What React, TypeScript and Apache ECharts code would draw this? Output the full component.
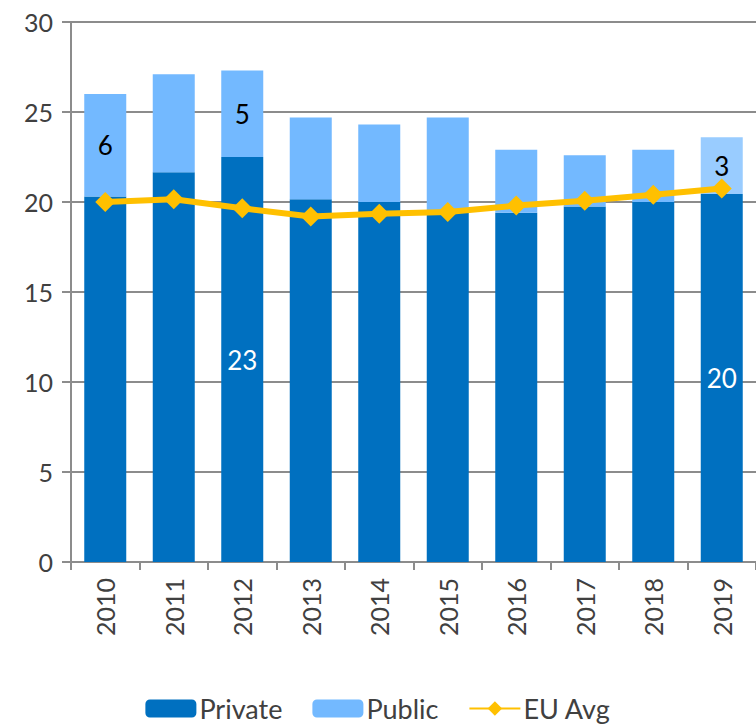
import React, { useEffect, useRef } from "react";
import * as echarts from "echarts";

const years = ["2010", "2011", "2012", "2013", "2014", "2015", "2016", "2017", "2018", "2019"];
const privateVals = [20.3, 21.65, 22.5, 20.15, 20.0, 19.4, 19.4, 19.75, 20.0, 20.45];
const publicVals = [5.7, 5.45, 4.8, 4.55, 4.3, 5.3, 3.5, 2.85, 2.9, 3.15];
const euAvg = [20.0, 20.15, 19.65, 19.2, 19.35, 19.45, 19.8, 20.07, 20.4, 20.75];
const privateLabelIdx = [2, 9];
const publicLabelIdx = [0, 2, 9];
const highlightPublicIdx = [9];

const FONT = "Lato";

export default function App() {
  const ref = useRef<HTMLDivElement>(null);
  useEffect(() => {
    document.body.style.margin = "0";
    const chart = echarts.init(ref.current!, undefined, { renderer: "svg" });
    const lbl = (color: string) => ({
      show: true,
      position: "inside",
      color,
      fontFamily: FONT,
      fontSize: 26,
      formatter: (p: any) => String(Math.round(p.value)),
    });
    chart.setOption({
      animation: false,
      textStyle: { fontFamily: FONT },
      grid: { left: 71, top: 22, width: 688, height: 540 },
      legend: {
        bottom: 1,
        left: "center",
        itemWidth: 51,
        itemHeight: 18,
        itemGap: 30,
        textStyle: { fontFamily: FONT, fontSize: 27, color: "#404040", padding: [0, 0, 0, -2] },
        data: ["Private", "Public", "EU Avg"],
      },
      xAxis: {
        type: "category",
        data: years,
        axisLine: { lineStyle: { color: "#8c8c8c", width: 2 } },
        axisTick: { show: true, length: 8, lineStyle: { color: "#8c8c8c", width: 2 } },
        axisLabel: {
          rotate: 90,
          margin: 16,
          fontFamily: FONT,
          fontSize: 25,
          color: "#404040",
        },
      },
      yAxis: {
        type: "value",
        min: 0,
        max: 30,
        interval: 5,
        axisLine: { show: true, lineStyle: { color: "#8c8c8c", width: 2 } },
        axisTick: { show: true, length: 9, lineStyle: { color: "#8c8c8c", width: 2 } },
        splitLine: { lineStyle: { color: "#8c8c8c", width: 2 } },
        axisLabel: { fontFamily: FONT, fontSize: 25, color: "#404040", margin: 18 },
      },
      series: [
        {
          name: "Private",
          type: "bar",
          stack: "total",
          barWidth: 42,
          itemStyle: { color: "#0070C0" },
          data: privateVals.map((v, i) =>
            privateLabelIdx.includes(i) ? { value: v, label: lbl("#ffffff") } : v
          ),
        },
        {
          name: "Public",
          type: "bar",
          stack: "total",
          barWidth: 42,
          itemStyle: { color: "#73B9FF" },
          data: publicVals.map((v, i) => {
            const item: any = { value: v };
            if (publicLabelIdx.includes(i)) item.label = lbl("#000000");
            if (highlightPublicIdx.includes(i)) item.itemStyle = { color: "#99CCFF" };
            return item;
          }),
        },
        {
          name: "EU Avg",
          type: "line",
          data: euAvg,
          symbol: "diamond",
          symbolSize: 20,
          lineStyle: { color: "#FFC000", width: 6 },
          itemStyle: { color: "#FFC000" },
          z: 5,
        },
      ],
    });
    return () => chart.dispose();
  }, []);
  return <div ref={ref} style={{ width: 756, height: 728 }} />;
}
